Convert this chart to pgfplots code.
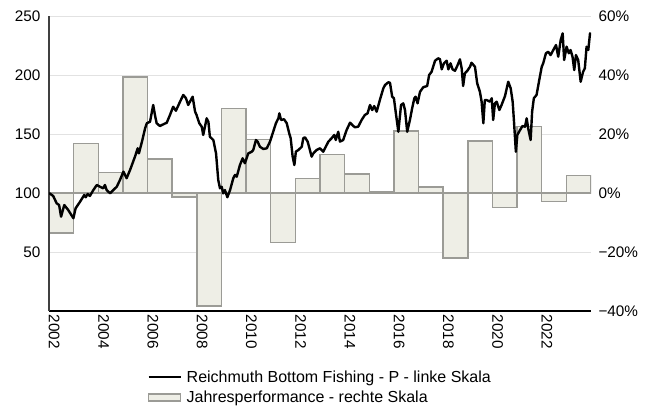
\documentclass[border=0pt]{standalone}
\usepackage{fontspec}
\setmainfont{Liberation Sans}
\usepackage{pgfplots}
\pgfplotsset{compat=1.18}

\definecolor{barfill}{RGB}{238,238,230}
\definecolor{baredge}{RGB}{155,155,150}
\definecolor{gridc}{RGB}{226,226,226}

\begin{document}
\begin{tikzpicture}[font=\fontsize{15}{18}\selectfont]
\useasboundingbox (-49pt,-96pt) rectangle (603pt,311pt);

% right scale: yearly performance bars, grid
\begin{axis}[
  at={(0pt,0pt)}, anchor=south west,
  scale only axis, width=542pt, height=295pt,
  xmin=2002, xmax=2024, ymin=-40, ymax=60,
  xtick=\empty,
  ytick={-40,-20,0,20,40,60},
  yticklabels={−40\%,−20\%,0\%,20\%,40\%,60\%},
  yticklabel pos=right,
  yticklabel style={xshift=4pt},
  tick label style={font=\fontsize{15.3}{18}\selectfont},
  ymajorgrids, grid style={gridc, line width=0.8pt},
  major tick length=0pt,
  axis line style={draw=none},
]
\addplot[ybar interval, fill=barfill, draw=baredge, line width=1.5pt] coordinates {
(2002,-13.5) (2003,16.8) (2004,6.9) (2005,39.4) (2006,11.6) (2007,-1.3)
(2008,-38.3) (2009,28.6) (2010,18.2) (2011,-16.7) (2012,5.0) (2013,13.1)
(2014,6.5) (2015,0.3) (2016,21.1) (2017,2.1) (2018,-22.1) (2019,17.7)
(2020,-4.9) (2021,22.5) (2022,-2.8) (2023,6.0) (2024,0)
};
\end{axis}

% left scale: fund price
\begin{axis}[
  at={(0pt,0pt)}, anchor=south west,
  scale only axis, width=542pt, height=295pt,
  xmin=2002, xmax=2024, ymin=0, ymax=250,
  axis x line*=bottom, axis y line*=left,
  x axis line style={black, line width=1.3pt},
  y axis line style={black!75, line width=1.3pt},
  xtick={2002,2004,...,2022},
  xticklabels={2002,2004,2006,2008,2010,2012,2014,2016,2018,2020,2022},
  xticklabel style={rotate=-90, anchor=base west},
  ytick={50,100,150,200,250},
  yticklabels={50,100,150,200,250},
  yticklabel style={xshift=-5pt},
  tick label style={font=\fontsize{15.3}{18}\selectfont},
  major tick length=0pt,
  legend style={at={(axis description cs:0.181,-0.195)}, anchor=north west,
    draw=none, fill=none, font=\fontsize{16}{19}\selectfont,
    row sep=3pt, inner sep=0pt,
    /tikz/every odd column/.append style={column sep=3pt}},
  legend cell align=left,
]
\addplot[black, line width=2.4pt, line join=round,
  legend image code/.code={\draw[black, line width=2.4pt] (0pt,0pt) -- (32pt,0pt);}]
coordinates {
(2002.00,100) (2002.17,97.5) (2002.31,91.3) (2002.41,89.8) (2002.49,79.9) (2002.62,89.8)
(2002.78,85.6) (2002.99,78.6) (2003.08,87.0) (2003.26,92.6) (2003.43,98.3) (2003.49,96.4)
(2003.57,99.2) (2003.66,97.5) (2003.80,102.5) (2003.94,106.8) (2004.07,105.3) (2004.20,104.0)
(2004.27,106.8) (2004.34,102.5) (2004.48,99.7) (2004.61,102.5) (2004.75,105.3) (2004.88,111.0)
(2005.02,118.1) (2005.15,112.5) (2005.29,119.5) (2005.49,130.8) (2005.60,137.9) (2005.65,133.6)
(2005.79,144.9) (2005.90,154.8) (2005.97,159.1) (2006.10,160.4) (2006.23,174.6) (2006.30,166.1)
(2006.37,159.1) (2006.50,156.8) (2006.64,158.2) (2006.78,159.6) (2006.91,166.1)
(2007.04,173.1) (2007.15,169.7) (2007.32,177.4) (2007.45,183.1) (2007.56,180.3) (2007.65,174.6)
(2007.83,181.6) (2007.93,168.9) (2007.99,166.1) (2008.10,159.1) (2008.20,156.2) (2008.26,149.2)
(2008.40,163.3) (2008.47,160.4) (2008.53,147.7) (2008.67,144.9) (2008.78,133.6) (2008.87,111.0)
(2008.94,104.0) (2009.01,105.3) (2009.07,99.7) (2009.14,102.5) (2009.24,96.4) (2009.35,102.5)
(2009.48,112.5) (2009.55,115.3) (2009.62,113.8) (2009.75,123.7) (2009.86,129.4) (2009.95,125.2)
(2010.09,133.6) (2010.23,135.0) (2010.29,136.4) (2010.40,144.9) (2010.47,143.5) (2010.56,139.2)
(2010.70,137.3) (2010.84,137.9) (2010.97,143.5) (2011.10,151.9) (2011.21,159.1) (2011.31,163.3)
(2011.35,167.5) (2011.42,161.9) (2011.54,162.5) (2011.65,159.1) (2011.75,150.6) (2011.81,146.4)
(2011.89,130.8) (2011.96,123.7) (2012.02,135.0) (2012.12,136.4)
(2012.26,139.2) (2012.32,146.4) (2012.39,147.2) (2012.50,143.5) (2012.59,136.4) (2012.66,130.8)
(2012.73,133.6) (2012.86,136.4) (2013.00,137.9) (2013.13,135.0) (2013.27,140.7) (2013.34,143.5)
(2013.47,146.4) (2013.58,149.2) (2013.64,144.9) (2013.74,151.9) (2013.81,143.5) (2013.94,144.9)
(2014.08,153.4) (2014.22,159.6) (2014.35,156.8) (2014.42,155.7) (2014.55,156.2) (2014.69,161.9)
(2014.82,166.1) (2014.93,167.5) (2015.03,174.6) (2015.12,170.3) (2015.20,173.7) (2015.30,168.9)
(2015.43,178.8) (2015.57,188.7) (2015.64,191.5) (2015.77,193.8) (2015.84,193.5) (2015.93,181.6)
(2016.00,180.3) (2016.08,167.5) (2016.18,151.9) (2016.29,174.6) (2016.38,176.0) (2016.45,170.3)
(2016.54,151.9) (2016.65,161.9) (2016.74,171.8) (2016.83,180.3) (2016.88,181.6) (2016.96,176.0)
(2017.06,185.8) (2017.19,189.6) (2017.26,190.1)
(2017.35,190.7) (2017.43,200.0) (2017.53,202.8) (2017.67,212.1) (2017.80,214.2) (2017.87,213.3)
(2017.94,204.8) (2018.03,209.9) (2018.14,212.1) (2018.21,204.8) (2018.30,209.9) (2018.38,204.8)
(2018.48,203.6) (2018.57,207.6) (2018.68,213.3) (2018.75,205.7) (2018.81,190.7) (2018.88,201.4)
(2018.98,203.6) (2019.09,207.0) (2019.15,210.4) (2019.29,207.0) (2019.38,193.0) (2019.49,185.8)
(2019.56,177.4) (2019.63,159.1) (2019.69,178.8) (2019.76,178.8) (2019.90,177.4) (2019.97,180.3)
(2020.03,161.9) (2020.10,176.0) (2020.17,177.4) (2020.28,170.3) (2020.37,174.6) (2020.51,182.2)
(2020.64,194.3) (2020.74,188.7) (2020.82,177.4) (2020.87,161.9) (2020.95,135.0) (2021.01,149.2)
(2021.12,153.4) (2021.22,156.8) (2021.32,156.2) (2021.39,163.3) (2021.45,154.8) (2021.55,144.9)
(2021.61,168.9) (2021.68,180.3) (2021.79,183.1) (2021.90,195.8) (2022.00,207.0) (2022.06,209.9)
(2022.17,218.4) (2022.26,219.7)
(2022.36,216.9) (2022.47,221.2) (2022.58,225.4) (2022.67,215.5) (2022.77,229.7) (2022.85,235.3)
(2022.91,212.7) (2023.01,224.0) (2023.10,218.4) (2023.17,221.2) (2023.25,215.5) (2023.32,204.2)
(2023.39,216.9) (2023.48,212.7) (2023.58,194.3) (2023.68,202.8) (2023.75,205.7) (2023.82,224.0)
(2023.89,221.2) (2023.96,235.3) (2024.00,233.9)
};
\addlegendentry{Reichmuth Bottom Fishing - P - linke Skala}
\addlegendimage{legend image code/.code={\draw[fill=barfill, draw=baredge, line width=1.5pt] (0pt,-3.5pt) rectangle (32pt,3.5pt);}}
\addlegendentry{Jahresperformance - rechte Skala}
\end{axis}
\end{tikzpicture}
\end{document}
